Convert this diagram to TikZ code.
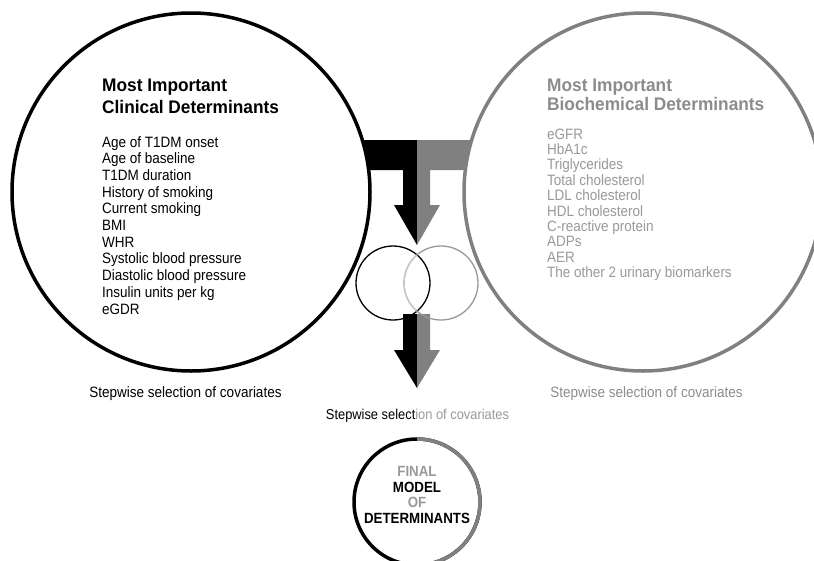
\documentclass[tikz,border=0pt]{standalone}
\usepackage{fontspec}
\setmainfont{Liberation Sans}
\newfontfamily\narrowsans{Liberation Sans}[FakeStretch=0.9]
\newfontfamily\headsans{Liberation Sans}[FakeStretch=0.95]
\definecolor{midgray}{HTML}{808080}
\definecolor{titlegray}{HTML}{8C8C8C}
\definecolor{itemgray}{HTML}{999999}
\definecolor{palegray}{HTML}{CCCCCC}
\begin{document}
\begin{tikzpicture}[x=1pt,y=-1pt,
  bigring/.style={circle, draw, fill=white, line width=3.5pt, minimum size=358pt, inner sep=0pt},
  smallring/.style={circle, draw, line width=1.3pt, minimum size=74pt, inner sep=0pt},
  heading/.style={font=\headsans\bfseries\fontsize{18.2}{21.7}\selectfont, align=left, anchor=base west, inner sep=0pt},
  itemlist/.style={font=\narrowsans\fontsize{15}{16.67}\selectfont, align=left, anchor=base west, inner sep=0pt},
  caption/.style={font=\narrowsans\fontsize{15}{16}\selectfont, anchor=base, inner sep=0pt},
  finaltext/.style={font=\narrowsans\bfseries\fontsize{14.8}{15.7}\selectfont, align=center, anchor=base, inner sep=0pt}]
\useasboundingbox (0,0) rectangle (814,560);
\clip (0,0) rectangle (814,560);

% T-shaped arrow, black half from the clinical side, grey half from the biochemical side
\fill[black] (330,140) -- (417,140) -- (417,245) -- (394,205) -- (403,205) -- (403,170) -- (330,170) -- cycle;
\fill[midgray] (505,140) -- (417,140) -- (417,245) -- (440,205) -- (430,205) -- (430,170) -- (505,170) -- cycle;

% the two groups of determinants
\node[bigring, draw=black] (clinical) at (191,192) {};
\node[bigring, draw=midgray] (biochem) at (643,192) {};

% multi-line nodes are placed by the baseline of their last line
\node[heading] (clinhead) at (102,113.4) {Most Important\\Clinical Determinants};
\node[itemlist] (clinlist) at (102,314) {Age of T1DM onset\\Age of baseline\\T1DM duration\\History of smoking\\Current smoking\\BMI\\WHR\\Systolic blood pressure\\Diastolic blood pressure\\Insulin units per kg\\eGDR};

\node[heading, text=titlegray, font=\headsans\bfseries\fontsize{18.2}{18.3}\selectfont] (biohead) at (547,110) {Most Important\\Biochemical Determinants};
\node[itemlist, text=itemgray, font=\narrowsans\fontsize{15}{15.4}\selectfont] (biolist) at (547,277.6) {eGFR\\HbA1c\\Triglycerides\\Total cholesterol\\LDL cholesterol\\HDL cholesterol\\C-reactive protein\\ADPs\\AER\\The other 2 urinary biomarkers};

\node[caption] (clincap) at (185.5,397) {Stepwise selection of covariates};
\node[caption, text=titlegray] (biocap) at (646.5,397) {Stepwise selection of covariates};

% lower split arrow
\fill[black] (403,314) -- (417,314) -- (417,388) -- (394,350) -- (403,350) -- cycle;
\fill[midgray] (430,314) -- (417,314) -- (417,388) -- (440,350) -- (430,350) -- cycle;

% overlapping selection circles
\node[smallring, draw=black] (vennL) at (393,283) {};
\node[smallring, draw=itemgray] (vennR) at (441,283) {};
\begin{scope}
  \clip (vennL.center) circle[radius=36];
  \draw[palegray, line width=1.3pt] (vennR.center) circle[radius=37];
\end{scope}

\node[caption, font=\narrowsans\fontsize{14.3}{15}\selectfont] (midcap) at (417.5,419) {Stepwise select\textcolor{itemgray}{ion of covariates}};

% final model ring: black left half, grey right half
\node[circle, draw=black, line width=3.5pt, minimum size=126pt, inner sep=0pt] (final) at (417,502) {};
\begin{scope}
  \clip (417,420) rectangle (500,580);
  \draw[midgray, line width=3.5pt] (final.center) circle[radius=63];
\end{scope}
\node[finaltext] (finallabel) at (417,523.5) {\textcolor{itemgray}{FINAL}\\MODEL\\\textcolor{itemgray}{OF}\\DETERMINANTS};
\end{tikzpicture}
\end{document}
